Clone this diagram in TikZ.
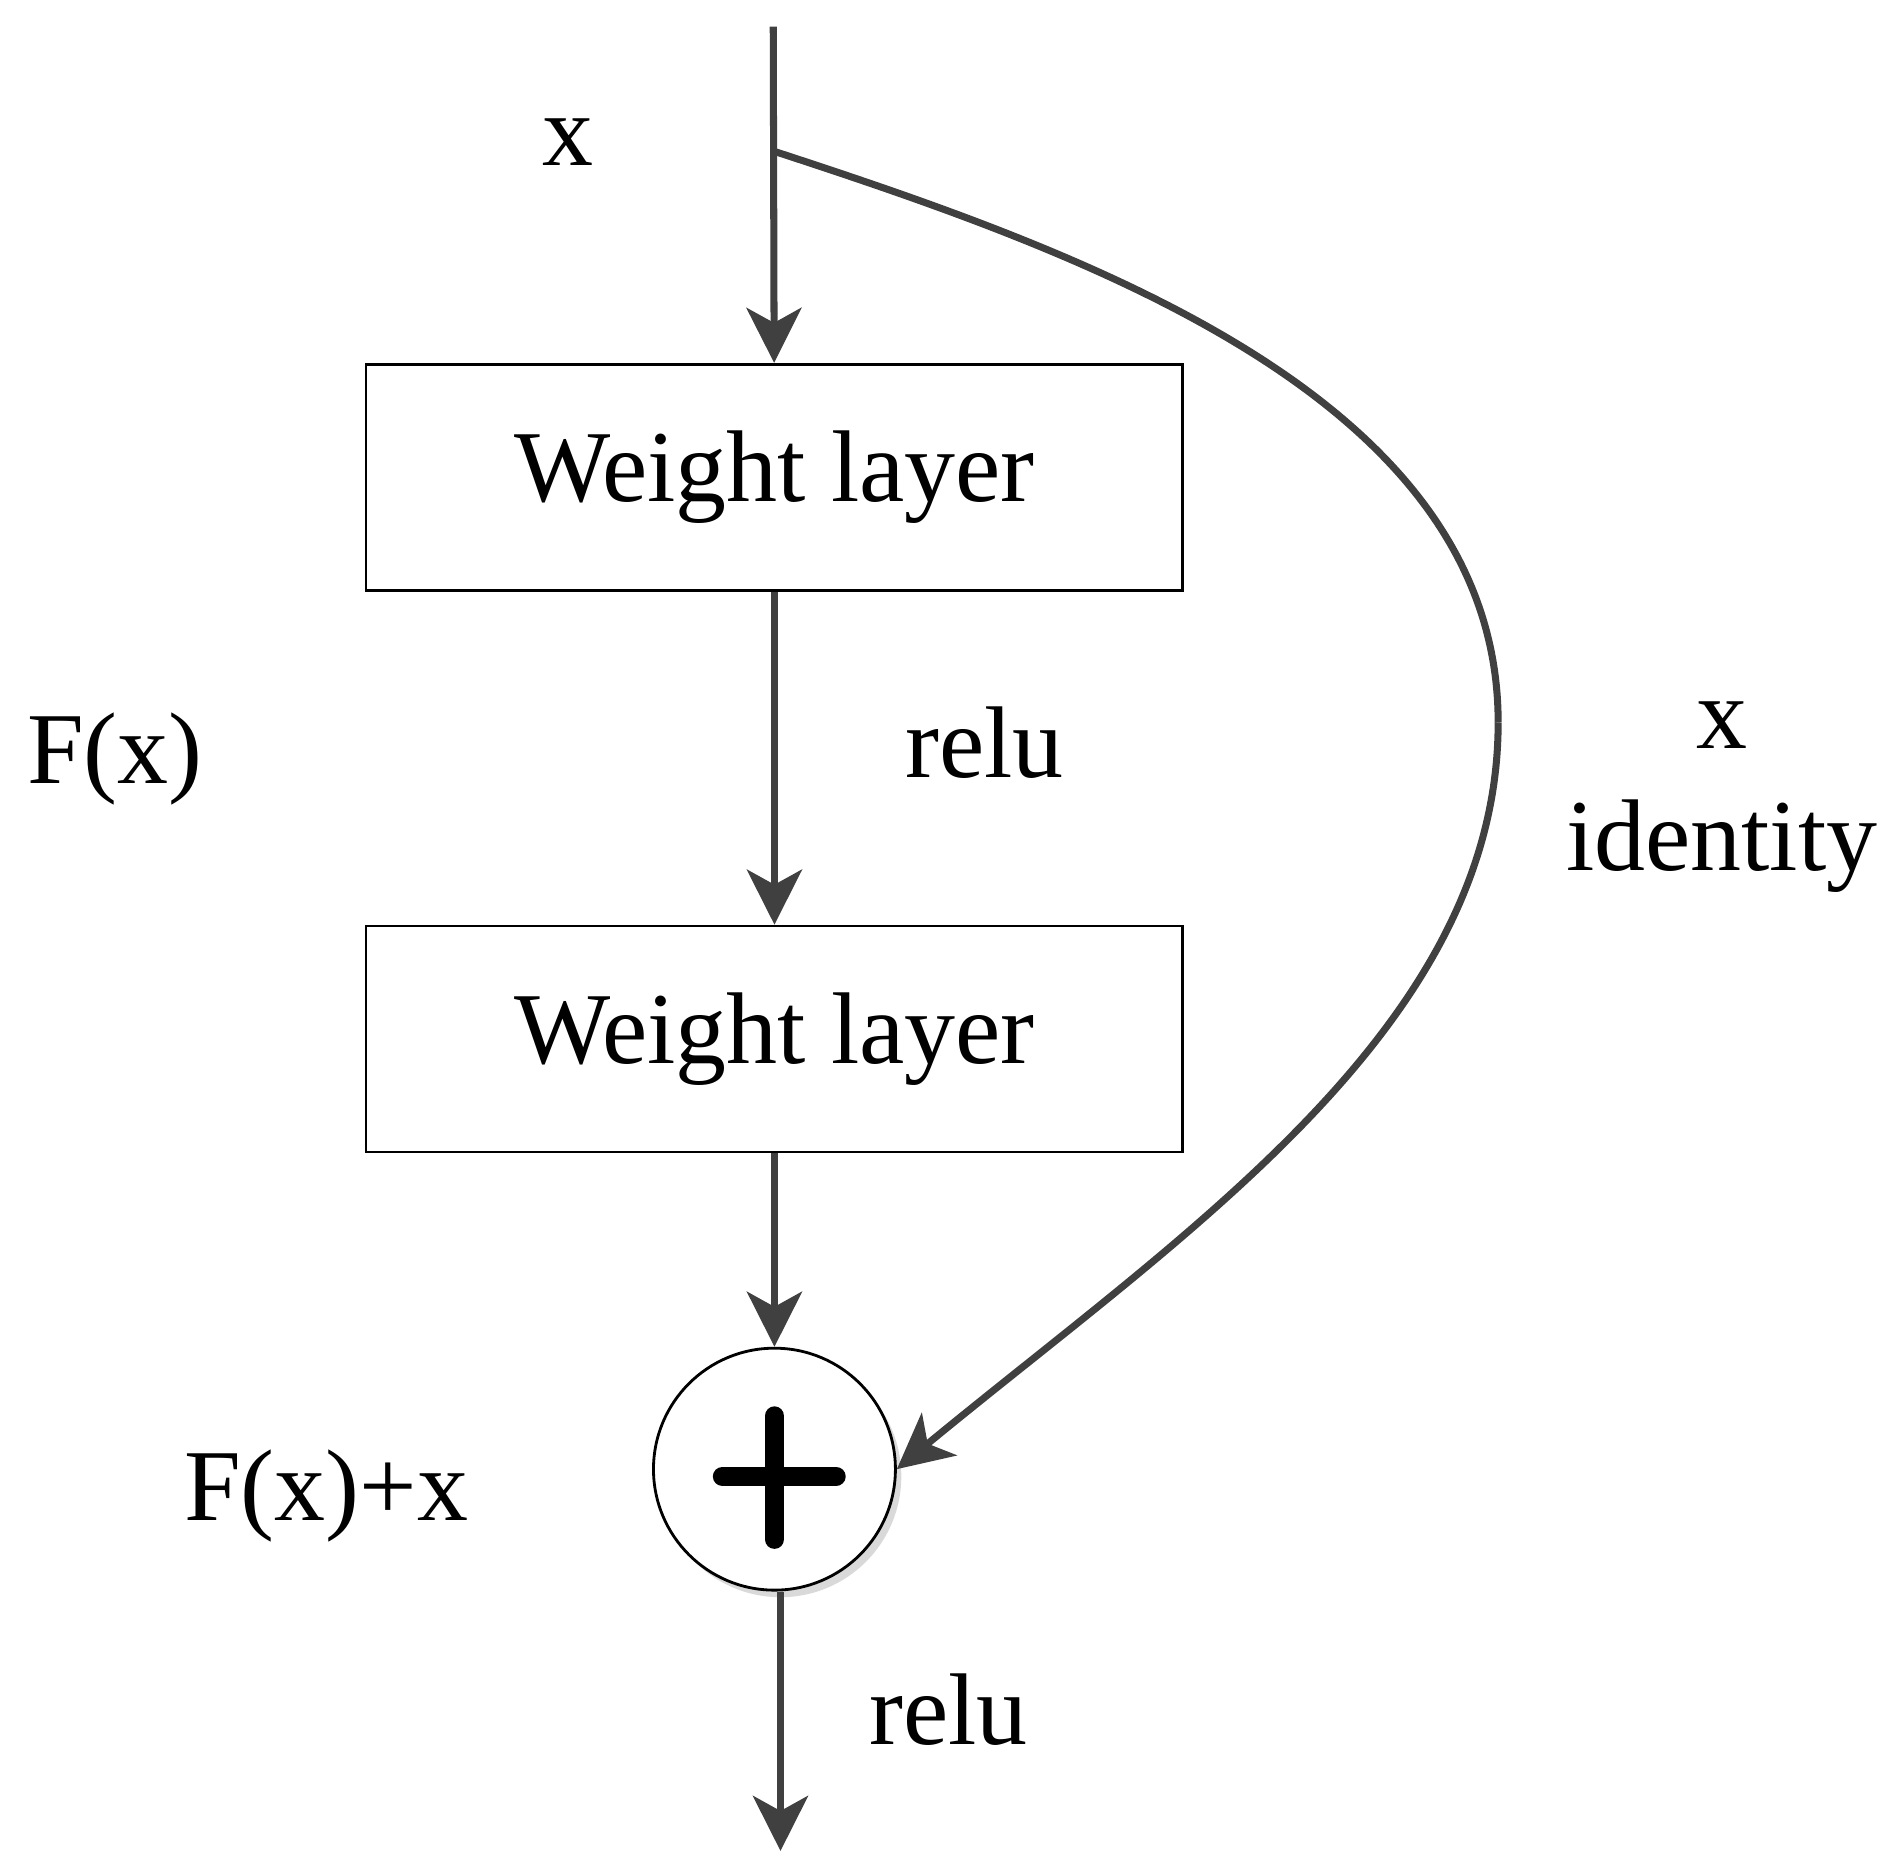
\documentclass[tikz,border=0pt]{standalone}
\usepackage{fontspec}
\setmainfont{Liberation Serif}
\usetikzlibrary{arrows.meta,positioning}
\definecolor{ln}{rgb}{0.25,0.25,0.25}
\begin{document}
\begin{tikzpicture}[x=0.01208cm,y=-0.01208cm]
\tikzstyle{wl}=[draw,line width=0.8pt,minimum width=8.17cm,minimum height=2.26cm,font=\fontsize{29}{33}\selectfont]
\tikzstyle{lbl}=[font=\fontsize{29}{33}\selectfont]
\tikzstyle{arr}=[draw=ln,line width=2pt,-{Stealth[length=5.5mm,width=5.5mm,inset=1.5mm]}]
\useasboundingbox (0,0) rectangle (1566,1550);
\coordinate (top) at (640,22);
\coordinate (split) at (640,125);
\coordinate (bend) at (1240,598);
\coordinate (out) at (646,1532);
\node[wl] (w1) at (641,395) {Weight layer};
\node[wl] (w2) at (641,860) {Weight layer};
\fill[black!15] (646,1222) circle (100);
\node[draw,circle,fill=white,line width=0.8pt,minimum size=2.42cm] (sum) at (641,1216) {};
\draw[line width=5.5pt,line cap=round] (598,1222) -- (692,1222) (641,1172) -- (641,1274);

\draw[arr] (top) -- (w1);
\draw[arr] (w1) -- (w2);
\draw[arr] (w2) -- (sum);
\draw[arr] (sum.south -| out) -- (out);
\draw[draw=ln,line width=2pt] (split) .. controls (900,210) and (1240,330) .. (bend);
\draw[arr] (bend) .. controls (1240,850) and (980,1020) .. (sum.east);

\node[lbl] (lx) at (470,118) {x};
\node[lbl] (relu1) at (815,615) {relu};
\node[lbl] (fx) at (95,628) {F(x)};
\node[lbl] (rx) at (1425,600) {x};
\node[lbl] (id) at (1425,700) {identity};
\node[lbl] (fxx) at (270,1238) {F(x)+x};
\node[lbl] (relu2) at (785,1415) {relu};
\end{tikzpicture}
\end{document}
